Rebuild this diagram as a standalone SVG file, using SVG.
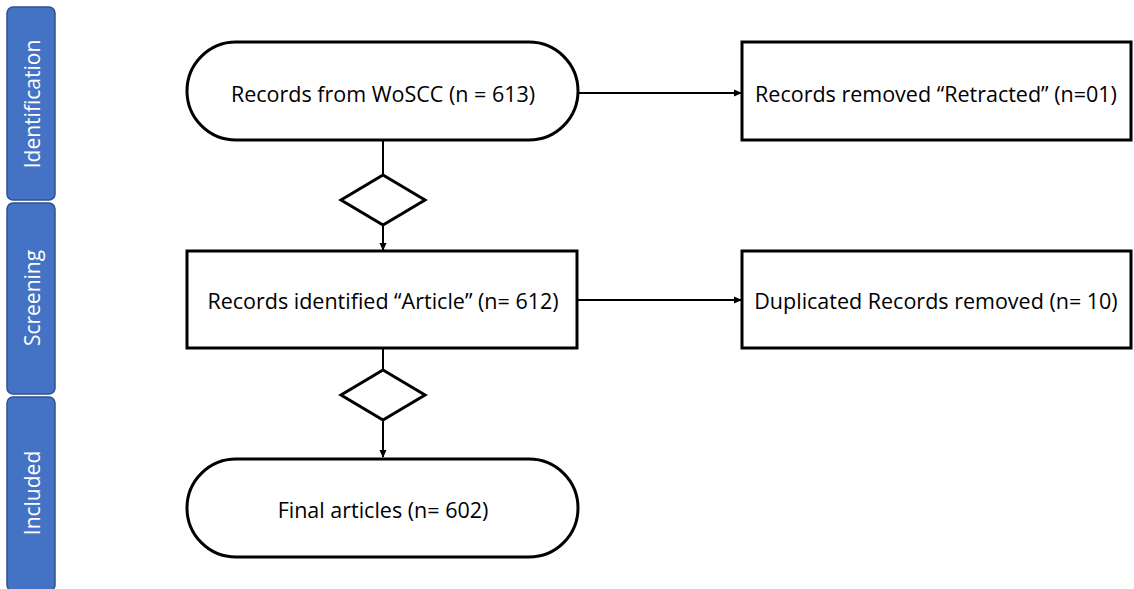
<svg xmlns="http://www.w3.org/2000/svg" width="1134" height="589" viewBox="0 0 1134 589">
<style>
.bar{fill:#4472C4;stroke:#2F528F;stroke-width:1.5}
.bt{fill:#fff;font-family:"Open Sans","Liberation Sans",sans-serif;font-size:21px;text-anchor:middle;dominant-baseline:central}
.nd{fill:#fff;stroke:#000;stroke-width:3}
.t{fill:#000;font-family:"Open Sans","Liberation Sans",sans-serif;font-size:21.5px;text-anchor:middle;dominant-baseline:central}
.c{fill:none;stroke:#000;stroke-width:2}
</style>
<defs>
<marker id="ah" markerWidth="8" markerHeight="8" refX="7" refY="4" orient="auto" markerUnits="userSpaceOnUse">
<path d="M0,0.5 L8,4 L0,7.5 Z" fill="#000"/>
</marker>
</defs>
<rect width="1134" height="589" fill="#fff"/>
<g id="phase-identification">
<rect class="bar" x="7" y="7" width="48" height="193" rx="6"/>
<text class="bt" transform="translate(32,104) rotate(-90)">Identification</text>
</g>
<g id="phase-screening">
<rect class="bar" x="7" y="203" width="48" height="191" rx="6"/>
<text class="bt" transform="translate(32,298) rotate(-90)">Screening</text>
</g>
<g id="phase-included">
<rect class="bar" x="7" y="397" width="48" height="194" rx="6"/>
<text class="bt" transform="translate(32,493) rotate(-90)">Included</text>
</g>
<g id="connectors">
<line class="c" x1="383" y1="140" x2="383" y2="175"/>
<line class="c" x1="383" y1="225" x2="383" y2="250" marker-end="url(#ah)"/>
<line class="c" x1="383" y1="348" x2="383" y2="370"/>
<line class="c" x1="383" y1="420" x2="383" y2="457" marker-end="url(#ah)"/>
<line class="c" x1="578" y1="93" x2="741" y2="93" marker-end="url(#ah)"/>
<line class="c" x1="577" y1="300" x2="741" y2="300" marker-end="url(#ah)"/>
</g>
<g id="node-records">
<rect class="nd" x="187" y="42" width="391" height="98" rx="49"/>
<text class="t" x="383" y="93">Records from WoSCC (n = 613)</text>
</g>
<g id="decision-1">
<polygon class="nd" points="383,175 425,200 383,225 341,200"/>
</g>
<g id="node-article">
<rect class="nd" x="187" y="251" width="390" height="97"/>
<text class="t" x="383" y="300">Records identified “Article” (n= 612)</text>
</g>
<g id="decision-2">
<polygon class="nd" points="383,370 425,395 383,420 341,395"/>
</g>
<g id="node-final">
<rect class="nd" x="187" y="459" width="391" height="98" rx="49"/>
<text class="t" x="383" y="509">Final articles (n= 602)</text>
</g>
<g id="node-retracted">
<rect class="nd" x="742" y="42" width="389" height="98"/>
<text class="t" x="936" y="93">Records removed “Retracted” (n=01)</text>
</g>
<g id="node-duplicates">
<rect class="nd" x="742" y="251" width="389" height="97"/>
<text class="t" x="936" y="300">Duplicated Records removed (n= 10)</text>
</g>
</svg>
